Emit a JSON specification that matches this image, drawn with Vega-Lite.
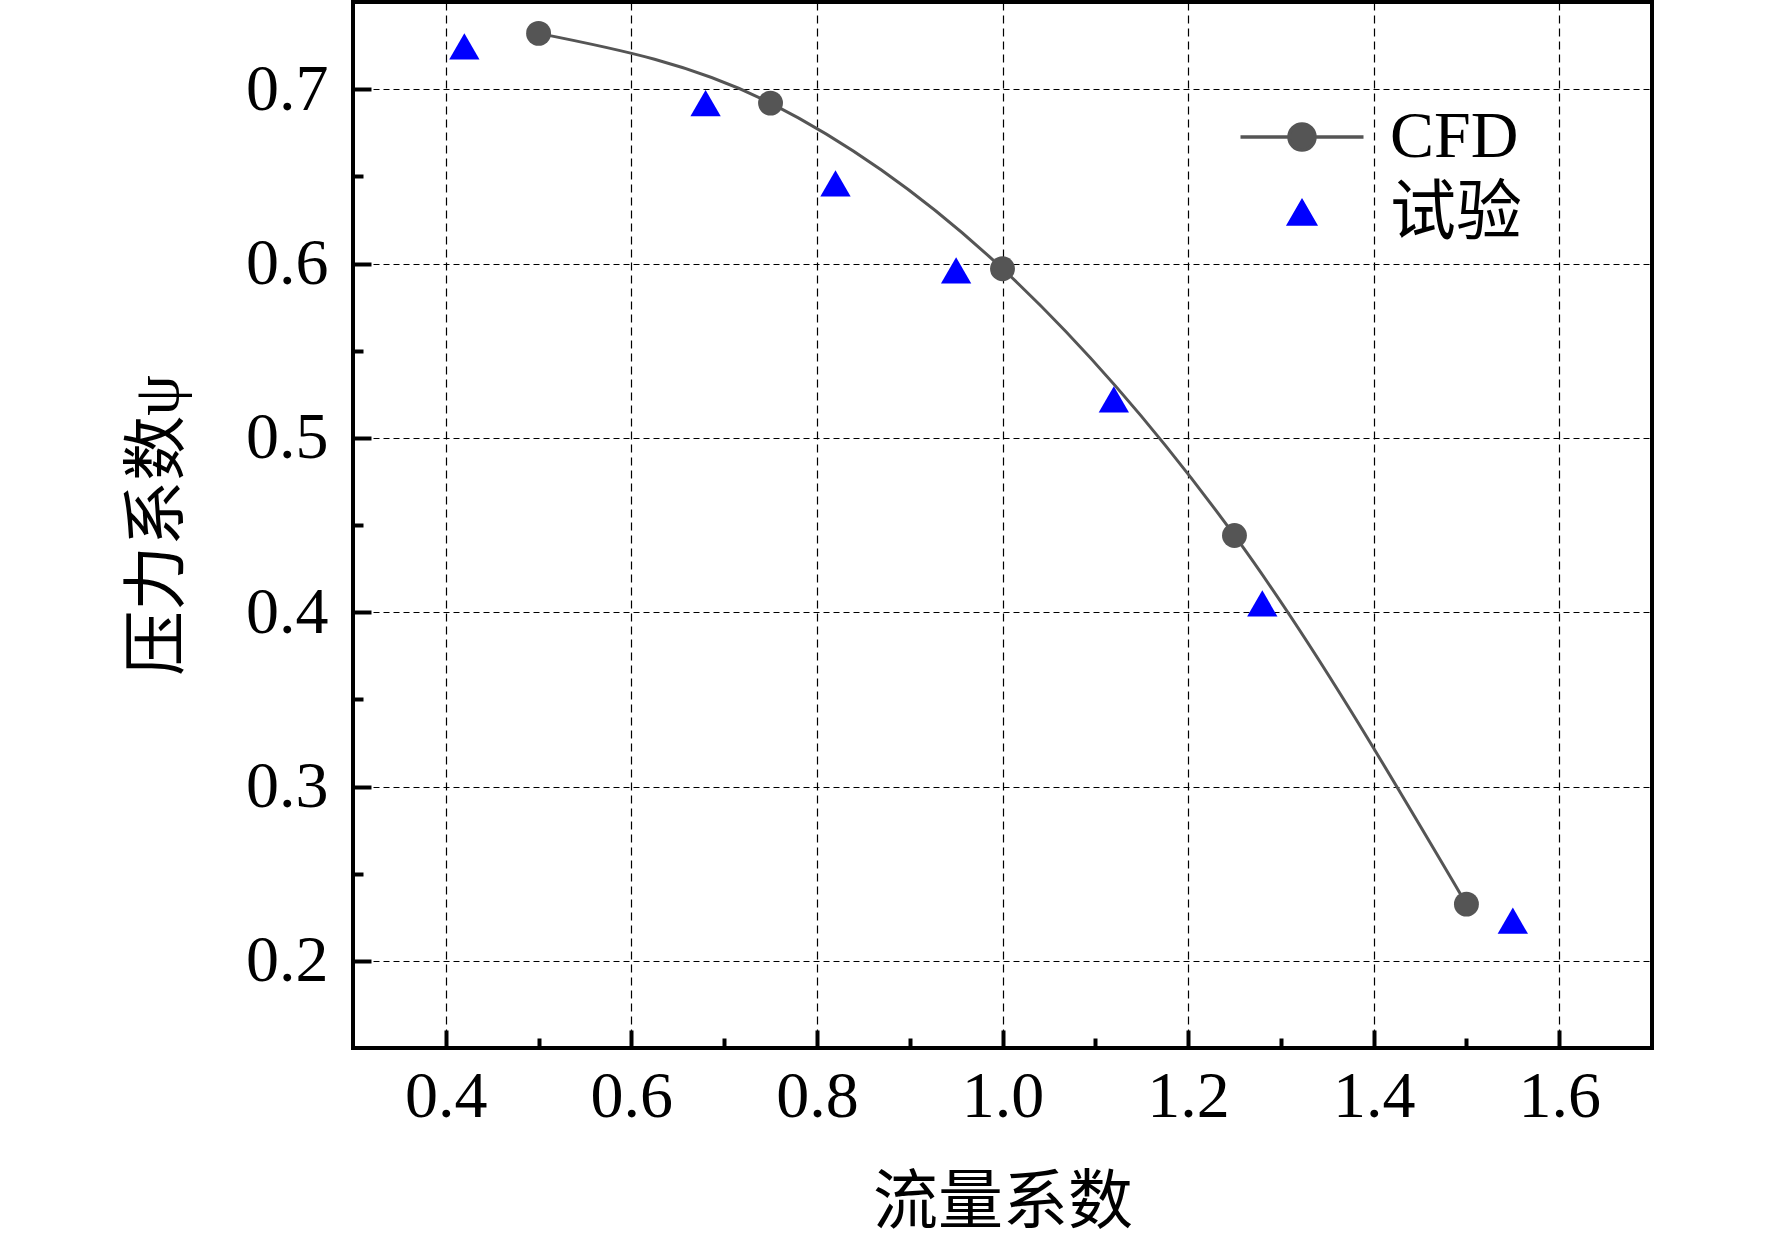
{
  "$schema": "https://vega.github.io/schema/vega-lite/v6.json",
  "width": 1299,
  "height": 1046,
  "autosize": {"type": "none"},
  "padding": {"left": 353, "top": 2, "right": 120, "bottom": 209},
  "background": "white",
  "datasets": {
    "cfd": [
      {"flow": 0.5, "psi": 0.732, "series": "CFD"},
      {"flow": 0.75, "psi": 0.692, "series": "CFD"},
      {"flow": 1.0, "psi": 0.597, "series": "CFD"},
      {"flow": 1.25, "psi": 0.444, "series": "CFD"},
      {"flow": 1.5, "psi": 0.2325, "series": "CFD"}
    ],
    "exp": [
      {"flow": 0.42, "psi": 0.7245, "series": "试验"},
      {"flow": 0.68, "psi": 0.692, "series": "试验"},
      {"flow": 0.82, "psi": 0.646, "series": "试验"},
      {"flow": 0.95, "psi": 0.596, "series": "试验"},
      {"flow": 1.12, "psi": 0.522, "series": "试验"},
      {"flow": 1.28, "psi": 0.405, "series": "试验"},
      {"flow": 1.55, "psi": 0.223, "series": "试验"}
    ]
  },
  "encoding": {
    "x": {
      "field": "flow",
      "type": "quantitative",
      "scale": {"domain": [0.3, 1.7], "nice": false, "zero": false},
      "axis": {
        "title": "流量系数",
        "values": [0.4, 0.5, 0.6, 0.7, 0.8, 0.9, 1.0, 1.1, 1.2, 1.3, 1.4, 1.5, 1.6],
        "format": ".1f",
        "labelExpr": "round(datum.value * 10) % 2 == 0 ? datum.label : ''",
        "tickSize": {"condition": {"test": "round(datum.value * 10) % 2 == 0", "value": -18}, "value": -10},
        "gridOpacity": {"condition": {"test": "round(datum.value * 10) % 2 == 1", "value": 0}, "value": 1},
        "gridDash": [8, 5],
        "labelPadding": 34,
        "titlePadding": 42
      }
    },
    "y": {
      "field": "psi",
      "type": "quantitative",
      "scale": {"domain": [0.15, 0.75], "nice": false, "zero": false},
      "axis": {
        "title": "压力系数ψ",
        "values": [0.2, 0.25, 0.3, 0.35, 0.4, 0.45, 0.5, 0.55, 0.6, 0.65, 0.7],
        "format": ".1f",
        "labelExpr": "round(datum.value * 100) % 10 == 0 ? datum.label : ''",
        "tickSize": {"condition": {"test": "round(datum.value * 100) % 10 == 0", "value": -18}, "value": -10},
        "gridOpacity": {"condition": {"test": "round(datum.value * 100) % 10 != 0", "value": 0}, "value": 1},
        "gridDash": [6, 4],
        "labelPadding": 43,
        "titlePadding": 54
      }
    }
  },
  "layer": [
    {
      "data": {"name": "cfd"},
      "mark": {"type": "line", "interpolate": "monotone", "color": "#555555", "strokeWidth": 3}
    },
    {
      "data": {"name": "cfd"},
      "mark": {"type": "point", "shape": "circle", "filled": true, "color": "#555555", "size": 620, "opacity": 1}
    },
    {
      "data": {"name": "exp"},
      "mark": {"type": "point", "shape": "triangle-up", "filled": true, "color": "#0000ff", "size": 920, "opacity": 1}
    },
    {
      "data": {"name": "cfd"},
      "transform": [{"filter": "false"}],
      "mark": {"type": "point", "filled": true, "opacity": 1},
      "encoding": {
        "fill": {
          "field": "series",
          "type": "nominal",
          "scale": {"domain": ["CFD", "试验"], "range": ["#555555", "#0000ff"]},
          "legend": {"title": null}
        },
        "stroke": {
          "field": "series",
          "type": "nominal",
          "scale": {"domain": ["CFD", "试验"], "range": ["#555555", "#0000ff"]},
          "legend": {"title": null}
        },
        "shape": {
          "field": "series",
          "type": "nominal",
          "scale": {
            "domain": ["CFD", "试验"],
            "range": [
              "M-2.46,0H2.46M0.52,0A0.52,0.52,0,1,1,-0.52,0A0.52,0.52,0,1,1,0.52,0Z",
              "M0,-0.5L0.52,0.4L-0.52,0.4Z"
            ]
          },
          "legend": {"title": null}
        }
      }
    }
  ],
  "config": {
    "view": {"stroke": "black", "strokeWidth": 4},
    "axis": {
      "domain": false,
      "grid": true,
      "gridColor": "black",
      "gridWidth": 1.2,
      "tickColor": "black",
      "tickWidth": 4,
      "labelFont": "Liberation Serif",
      "labelFontSize": 66,
      "labelColor": "black",
      "titleFont": "Liberation Serif, Noto Sans CJK SC",
      "titleFontSize": 65,
      "titleFontWeight": "normal",
      "titleColor": "black"
    },
    "legend": {
      "orient": "none",
      "legendX": 916,
      "legendY": 102,
      "padding": 0,
      "symbolSize": 2500,
      "symbolStrokeWidth": 3.5,
      "labelFont": "Liberation Serif, Noto Sans CJK SC",
      "labelFontSize": 66,
      "labelColor": "black",
      "labelOffset": 55,
      "rowPadding": 11
    }
  }
}
